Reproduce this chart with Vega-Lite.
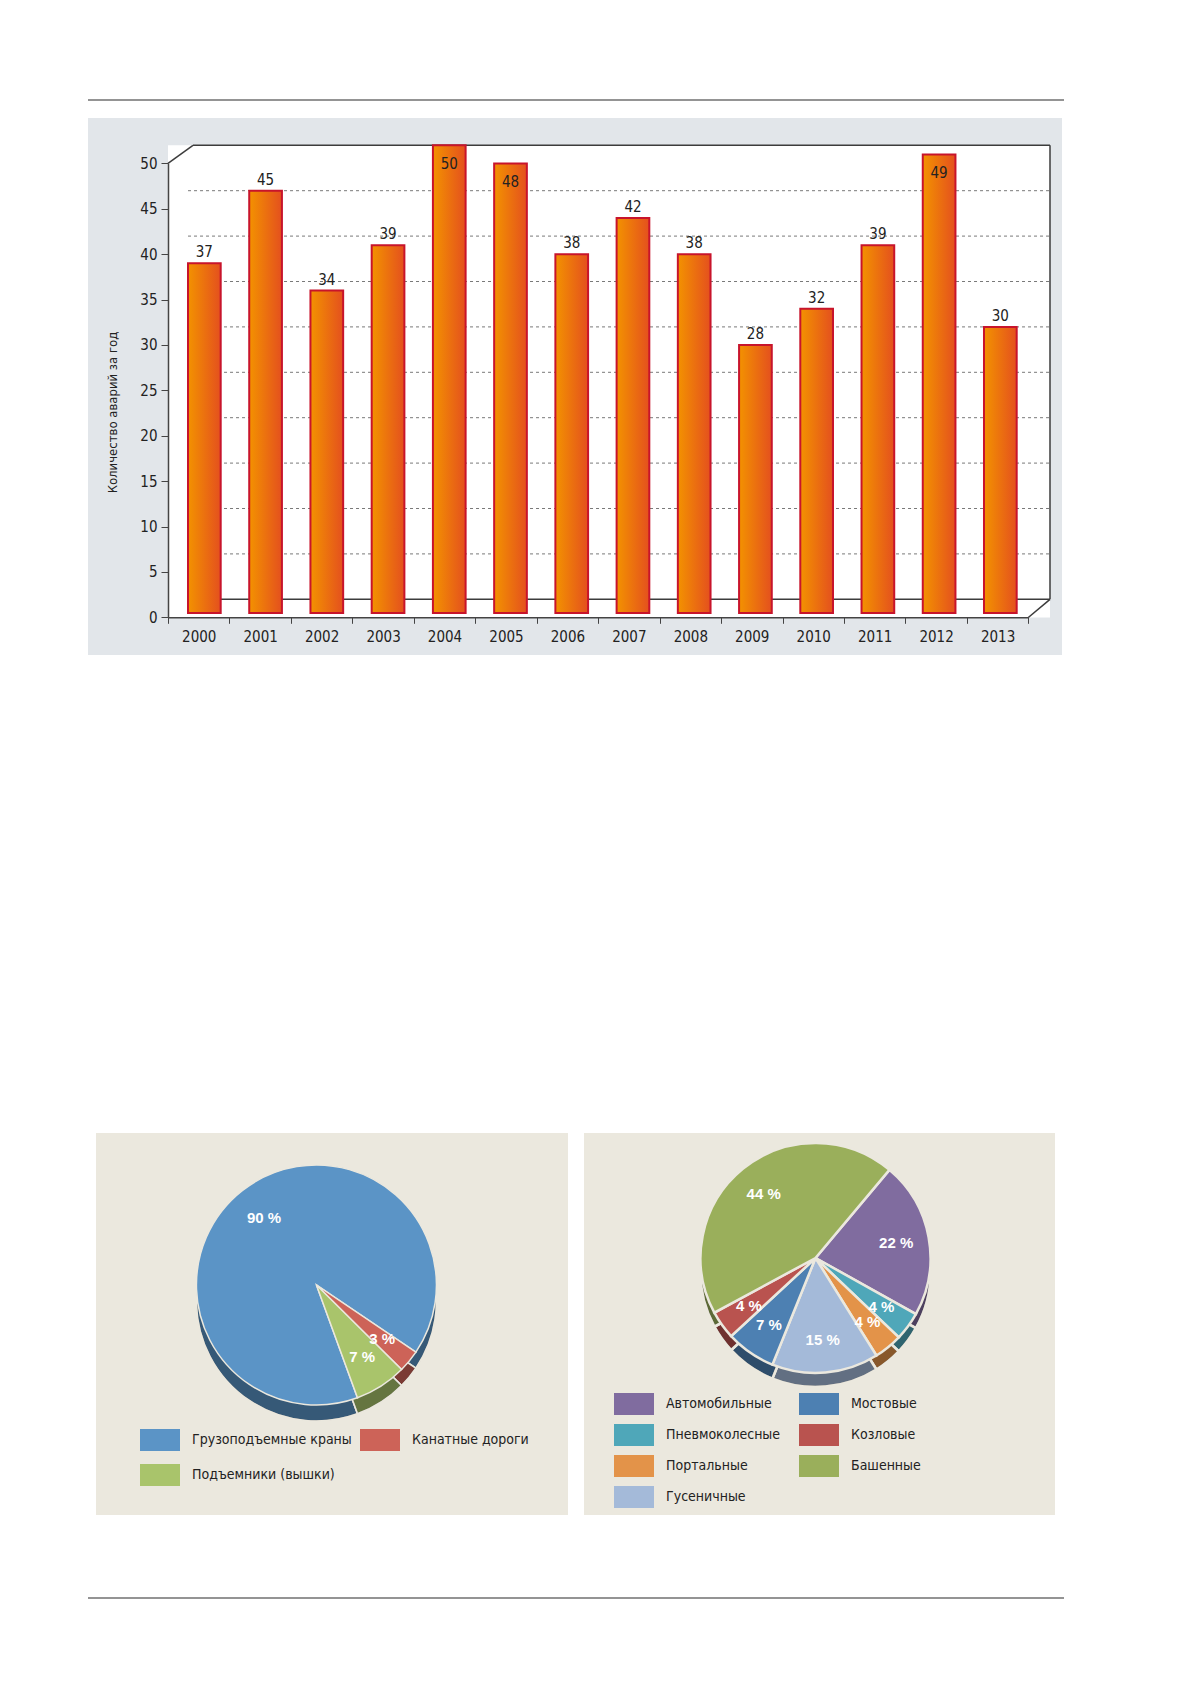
{
  "$schema": "https://vega.github.io/schema/vega-lite/v6.json",
  "background": "white",
  "padding": {"left": 87, "top": 99, "right": 0, "bottom": 0},
  "spacing": 0,
  "vconcat": [
    {
      "width": 976,
      "height": 18,
      "data": {"values": [{}]},
      "mark": {"type": "rule", "color": "#707070", "strokeWidth": 1.5},
      "encoding": {
        "y": {"datum": 1, "type": "quantitative", "scale": {"domain": [0, 1]}, "axis": null}
      }
    },
    {
      "width": 974,
      "height": 537,
      "view": {"fill": "#e2e6ea", "stroke": null},
      "data": {
        "values": [
          {"year": "2000", "count": 37},
          {"year": "2001", "count": 45},
          {"year": "2002", "count": 34},
          {"year": "2003", "count": 39},
          {"year": "2004", "count": 50},
          {"year": "2005", "count": 48},
          {"year": "2006", "count": 38},
          {"year": "2007", "count": 42},
          {"year": "2008", "count": 38},
          {"year": "2009", "count": 28},
          {"year": "2010", "count": 32},
          {"year": "2011", "count": 39},
          {"year": "2012", "count": 49},
          {"year": "2013", "count": 30}
        ]
      },
      "layer": [
        {
          "layer": [
            {
              "data": {"values": [{}]},
              "mark": {"type": "rect", "fill": "white"},
              "encoding": {
                "x": {"datum": 0, "type": "quantitative", "scale": {"domain": [0, 1], "range": [80, 962], "nice": false, "zero": false}, "axis": null},
                "x2": {"datum": 1},
                "y": {"datum": -2, "type": "quantitative", "scale": {"domain": [0, 50], "range": [481.3, 27.3], "nice": false, "zero": false}, "axis": null},
                "y2": {"datum": 50}
              }
            },
            {
              "data": {"values": [{"v": 5}, {"v": 10}, {"v": 15}, {"v": 20}, {"v": 25}, {"v": 30}, {"v": 35}, {"v": 40}, {"v": 45}]},
              "mark": {"type": "rule", "color": "#6a6a6a", "strokeWidth": 0.9, "strokeDash": [3, 3]},
              "encoding": {
                "x": {"datum": 0.0227, "type": "quantitative", "scale": {"domain": [0, 1], "range": [80, 962], "nice": false, "zero": false}, "axis": null},
                "x2": {"datum": 1},
                "y": {"field": "v", "type": "quantitative", "scale": {"domain": [0, 50], "range": [481.3, 27.3], "nice": false, "zero": false}, "axis": null}
              }
            },
            {
              "data": {"values": [{}]},
              "mark": {"type": "rule", "color": "#3c3c3c", "strokeWidth": 1.5},
              "encoding": {
                "x": {"datum": 0.0283, "type": "quantitative", "scale": {"domain": [0, 1], "range": [80, 962], "nice": false, "zero": false}, "axis": null},
                "x2": {"datum": 1},
                "y": {"datum": 50, "type": "quantitative", "scale": {"domain": [0, 50], "range": [481.3, 27.3], "nice": false, "zero": false}, "axis": null}
              }
            },
            {
              "data": {"values": [{}]},
              "mark": {"type": "rule", "color": "#3c3c3c", "strokeWidth": 1.5},
              "encoding": {
                "x": {"datum": 0.0283, "type": "quantitative", "scale": {"domain": [0, 1], "range": [80, 962], "nice": false, "zero": false}, "axis": null},
                "x2": {"datum": 1},
                "y": {"datum": 0, "type": "quantitative", "scale": {"domain": [0, 50], "range": [481.3, 27.3], "nice": false, "zero": false}, "axis": null}
              }
            },
            {
              "data": {"values": [{}]},
              "mark": {"type": "rule", "color": "#3c3c3c", "strokeWidth": 1.5},
              "encoding": {
                "x": {"datum": 1, "type": "quantitative", "scale": {"domain": [0, 1], "range": [80, 962], "nice": false, "zero": false}, "axis": null},
                "y": {"datum": 0, "type": "quantitative", "scale": {"domain": [0, 50], "range": [481.3, 27.3], "nice": false, "zero": false}, "axis": null},
                "y2": {"datum": 50}
              }
            },
            {
              "data": {"values": [{}]},
              "mark": {"type": "rule", "color": "#3c3c3c", "strokeWidth": 1.5},
              "encoding": {
                "x": {"datum": 0, "type": "quantitative", "scale": {"domain": [0, 1], "range": [80, 962], "nice": false, "zero": false}, "axis": null},
                "x2": {"datum": 0.0283},
                "y": {"datum": 48, "type": "quantitative", "scale": {"domain": [0, 50], "range": [481.3, 27.3], "nice": false, "zero": false}, "axis": null},
                "y2": {"datum": 50}
              }
            },
            {
              "data": {"values": [{}]},
              "mark": {"type": "rule", "color": "#3c3c3c", "strokeWidth": 1.5},
              "encoding": {
                "x": {"datum": 0.9754, "type": "quantitative", "scale": {"domain": [0, 1], "range": [80, 962], "nice": false, "zero": false}, "axis": null},
                "x2": {"datum": 1},
                "y": {"datum": -2, "type": "quantitative", "scale": {"domain": [0, 50], "range": [481.3, 27.3], "nice": false, "zero": false}, "axis": null},
                "y2": {"datum": 0}
              }
            }
          ]
        },
        {
          "mark": {"type": "point", "opacity": 0},
          "encoding": {
            "x": {
              "field": "year",
              "type": "ordinal",
              "scale": {"type": "band", "range": [80, 940.3], "paddingInner": 0, "paddingOuter": 0},
              "axis": {
                "orient": "bottom",
                "offset": -37.7,
                "zindex": 1,
                "title": null,
                "tickBand": "extent",
                "tickSize": 6,
                "labelPadding": 6,
                "labelAngle": 0,
                "labelFontSize": 15,
                "labelColor": "#222222",
                "domainColor": "#444444",
                "tickColor": "#444444",
                "domainWidth": 1.5,
                "grid": false
              }
            },
            "y": {
              "field": "count",
              "type": "quantitative",
              "scale": {"domain": [0, 50], "range": [499.3, 45.3], "nice": false, "zero": false},
              "axis": {
                "orient": "left",
                "offset": -80,
                "zindex": 1,
                "values": [0, 5, 10, 15, 20, 25, 30, 35, 40, 45, 50],
                "tickSize": 7,
                "labelPadding": 4,
                "labelFontSize": 15,
                "labelColor": "#222222",
                "domainColor": "#444444",
                "tickColor": "#444444",
                "domainWidth": 1.5,
                "grid": false,
                "title": "Количество аварий за год",
                "titleFontSize": 13,
                "titleFontWeight": "normal",
                "titleColor": "#222222",
                "titlePadding": 20,
                "titleY": 294
              }
            }
          }
        },
        {
          "encoding": {
            "x": {
              "field": "year",
              "type": "ordinal",
              "scale": {"type": "band", "range": [100, 962], "paddingInner": 0.466, "paddingOuter": 0.272, "align": 0},
              "axis": null
            },
            "y": {
              "field": "count",
              "type": "quantitative",
              "scale": {"domain": [0, 50], "range": [481.3, 27.3], "nice": false, "zero": false},
              "axis": null
            }
          },
          "layer": [
            {
              "mark": {
                "type": "bar",
                "fill": {
                  "gradient": "linear",
                  "x1": 0, "y1": 0, "x2": 1, "y2": 0,
                  "stops": [
                    {"offset": 0, "color": "#f39200"},
                    {"offset": 1, "color": "#e4501e"}
                  ]
                },
                "stroke": "#c8142b",
                "strokeWidth": 2
              },
              "encoding": {"y2": {"datum": -1.5}}
            },
            {
              "transform": [{"filter": "datum.count < 46"}],
              "mark": {"type": "text", "baseline": "alphabetic", "dy": -6, "fontSize": 15, "color": "#222222"},
              "encoding": {"text": {"field": "count", "type": "quantitative"}}
            },
            {
              "transform": [{"filter": "datum.count >= 46"}],
              "mark": {"type": "text", "baseline": "alphabetic", "dy": 24, "fontSize": 15, "color": "#222222"},
              "encoding": {"text": {"field": "count", "type": "quantitative"}}
            }
          ]
        }
      ],
      "resolve": {
        "scale": {"x": "independent", "y": "independent"},
        "axis": {"x": "independent", "y": "independent"}
      }
    },
    {
      "width": 974,
      "height": 478,
      "data": {"values": [{}]},
      "mark": {"type": "rect", "opacity": 0}
    },
    {
      "spacing": 7,
      "hconcat": [
        {
          "width": 1,
          "height": 382,
          "data": {"values": [{}]},
          "mark": {"type": "rect", "opacity": 0}
        },
        {
          "spacing": 16,
          "bounds": "flush",
          "hconcat": [
            {
              "width": 472,
              "height": 382,
              "view": {"fill": "#ebe8de", "stroke": null},
              "data": {
                "values": [
                  {"type": "Грузоподъемные краны", "share": 90, "label": "90 %", "seq": 1},
                  {"type": "Канатные дороги", "share": 3, "label": "3 %", "seq": 2},
                  {"type": "Подъемники (вышки)", "share": 7, "label": "7 %", "seq": 3}
                ]
              },
              "encoding": {
                "theta": {"field": "share", "type": "quantitative", "stack": true, "scale": {"range": [2.7925, 9.0757]}},
                "order": {"field": "seq", "type": "quantitative"},
                "x": {"datum": 0.467, "type": "quantitative", "scale": {"domain": [0, 1]}, "axis": null}
              },
              "layer": [
                {
                  "mark": {"type": "arc", "outerRadius": 120, "stroke": "#ebe8de", "strokeWidth": 1.5},
                  "encoding": {
                    "y": {"datum": 0.5602, "type": "quantitative", "scale": {"domain": [0, 1]}, "axis": null},
                    "color": {
                      "field": "type",
                      "type": "nominal",
                      "scale": {"domain": ["Грузоподъемные краны", "Канатные дороги", "Подъемники (вышки)"], "range": ["#5b94c6", "#cd6358", "#a9c46b"]},
                      "legend": {"title": null, "orient": "none", "legendX": 44, "legendY": 287, "direction": "horizontal", "columns": 2, "symbolType": "M-1,-0.55L1,-0.55L1,0.55L-1,0.55Z", "symbolSize": 1600, "symbolStrokeWidth": 0, "symbolOpacity": 1, "labelFontSize": 14, "labelColor": "#222222", "labelOffset": 12, "labelLimit": 300, "columnPadding": 8, "rowPadding": 4, "padding": 0}
                    }
                  }
                },
                {
                  "mark": {"type": "arc", "outerRadius": 120, "fill": "#000000", "fillOpacity": 0.4, "stroke": "#ebe8de", "strokeWidth": 1.5},
                  "encoding": {
                    "y": {"datum": 0.5602, "type": "quantitative", "scale": {"domain": [0, 1]}, "axis": null}
                  }
                },
                {
                  "mark": {"type": "arc", "outerRadius": 120, "stroke": "#ebe8de", "strokeWidth": 1.5},
                  "encoding": {
                    "y": {"datum": 0.6021, "type": "quantitative", "scale": {"domain": [0, 1]}, "axis": null},
                    "color": {
                      "field": "type",
                      "type": "nominal",
                      "scale": {"domain": ["Грузоподъемные краны", "Канатные дороги", "Подъемники (вышки)"], "range": ["#5b94c6", "#cd6358", "#a9c46b"]},
                      "legend": {"title": null, "orient": "none", "legendX": 44, "legendY": 287, "direction": "horizontal", "columns": 2, "symbolType": "M-1,-0.55L1,-0.55L1,0.55L-1,0.55Z", "symbolSize": 1600, "symbolStrokeWidth": 0, "symbolOpacity": 1, "labelFontSize": 14, "labelColor": "#222222", "labelOffset": 12, "labelLimit": 300, "columnPadding": 8, "rowPadding": 4, "padding": 0}
                    }
                  }
                },
                {
                  "mark": {"type": "text", "radius": 85, "fill": "white", "fontWeight": "bold", "fontSize": 15, "font": "Liberation Sans, Arial, sans-serif"},
                  "encoding": {
                    "y": {"datum": 0.6021, "type": "quantitative", "scale": {"domain": [0, 1]}, "axis": null},
                    "text": {"field": "label", "type": "nominal"}
                  }
                }
              ]
            },
            {
              "width": 471,
              "height": 382,
              "view": {"fill": "#ebe8de", "stroke": null},
              "data": {
                "values": [
                  {"type": "Автомобильные", "share": 22, "label": "22 %", "seq": 1},
                  {"type": "Пневмоколесные", "share": 4, "label": "4 %", "seq": 2},
                  {"type": "Портальные", "share": 4, "label": "4 %", "seq": 3},
                  {"type": "Гусеничные", "share": 15, "label": "15 %", "seq": 4},
                  {"type": "Мостовые", "share": 7, "label": "7 %", "seq": 5},
                  {"type": "Козловые", "share": 4, "label": "4 %", "seq": 6},
                  {"type": "Башенные", "share": 44, "label": "44 %", "seq": 7}
                ]
              },
              "encoding": {
                "theta": {"field": "share", "type": "quantitative", "stack": true, "scale": {"range": [0.6981, 6.9813]}},
                "order": {"field": "seq", "type": "quantitative"},
                "x": {"datum": 0.4915, "type": "quantitative", "scale": {"domain": [0, 1]}, "axis": null}
              },
              "layer": [
                {
                  "mark": {"type": "arc", "outerRadius": 115, "stroke": "#ebe8de", "strokeWidth": 2.5},
                  "encoding": {
                    "y": {"datum": 0.6361, "type": "quantitative", "scale": {"domain": [0, 1]}, "axis": null},
                    "color": {
                      "field": "type",
                      "type": "nominal",
                      "scale": {"domain": ["Автомобильные", "Пневмоколесные", "Портальные", "Гусеничные", "Мостовые", "Козловые", "Башенные"], "range": ["#806c9f", "#4fa7b9", "#e39349", "#a4bad9", "#4d80b2", "#b9534f", "#9aaf5b"]},
                      "legend": {"title": null, "orient": "none", "legendX": 30, "legendY": 251, "direction": "vertical", "columns": 2, "symbolType": "M-1,-0.55L1,-0.55L1,0.55L-1,0.55Z", "symbolSize": 1600, "symbolStrokeWidth": 0, "symbolOpacity": 1, "labelFontSize": 14, "labelColor": "#222222", "labelOffset": 12, "labelLimit": 300, "columnPadding": 18, "rowPadding": -12, "padding": 0}
                    }
                  }
                },
                {
                  "mark": {"type": "arc", "outerRadius": 115, "fill": "#000000", "fillOpacity": 0.4, "stroke": "#ebe8de", "strokeWidth": 2.5},
                  "encoding": {
                    "y": {"datum": 0.6361, "type": "quantitative", "scale": {"domain": [0, 1]}, "axis": null}
                  }
                },
                {
                  "mark": {"type": "arc", "outerRadius": 115, "stroke": "#ebe8de", "strokeWidth": 2.5},
                  "encoding": {
                    "y": {"datum": 0.6728, "type": "quantitative", "scale": {"domain": [0, 1]}, "axis": null},
                    "color": {
                      "field": "type",
                      "type": "nominal",
                      "scale": {"domain": ["Автомобильные", "Пневмоколесные", "Портальные", "Гусеничные", "Мостовые", "Козловые", "Башенные"], "range": ["#806c9f", "#4fa7b9", "#e39349", "#a4bad9", "#4d80b2", "#b9534f", "#9aaf5b"]},
                      "legend": {"title": null, "orient": "none", "legendX": 30, "legendY": 251, "direction": "vertical", "columns": 2, "symbolType": "M-1,-0.55L1,-0.55L1,0.55L-1,0.55Z", "symbolSize": 1600, "symbolStrokeWidth": 0, "symbolOpacity": 1, "labelFontSize": 14, "labelColor": "#222222", "labelOffset": 12, "labelLimit": 300, "columnPadding": 18, "rowPadding": -12, "padding": 0}
                    }
                  }
                },
                {
                  "mark": {"type": "text", "radius": 82, "fill": "white", "fontWeight": "bold", "fontSize": 15, "font": "Liberation Sans, Arial, sans-serif"},
                  "encoding": {
                    "y": {"datum": 0.6728, "type": "quantitative", "scale": {"domain": [0, 1]}, "axis": null},
                    "text": {"field": "label", "type": "nominal"}
                  }
                }
              ]
            }
          ],
          "resolve": {"scale": {"color": "independent"}, "legend": {"color": "independent"}}
        }
      ],
      "resolve": {"scale": {"color": "independent"}, "legend": {"color": "independent"}}
    },
    {
      "width": 976,
      "height": 83,
      "data": {"values": [{}]},
      "mark": {"type": "rule", "color": "#707070", "strokeWidth": 1.5},
      "encoding": {
        "y": {"datum": 0, "type": "quantitative", "scale": {"domain": [0, 1]}, "axis": null}
      }
    }
  ],
  "resolve": {"scale": {"color": "independent"}, "legend": {"color": "independent"}},
  "config": {
    "font": "Liberation Sans Narrow, DejaVu Sans Condensed, Liberation Sans, sans-serif",
    "view": {"stroke": null}
  }
}
